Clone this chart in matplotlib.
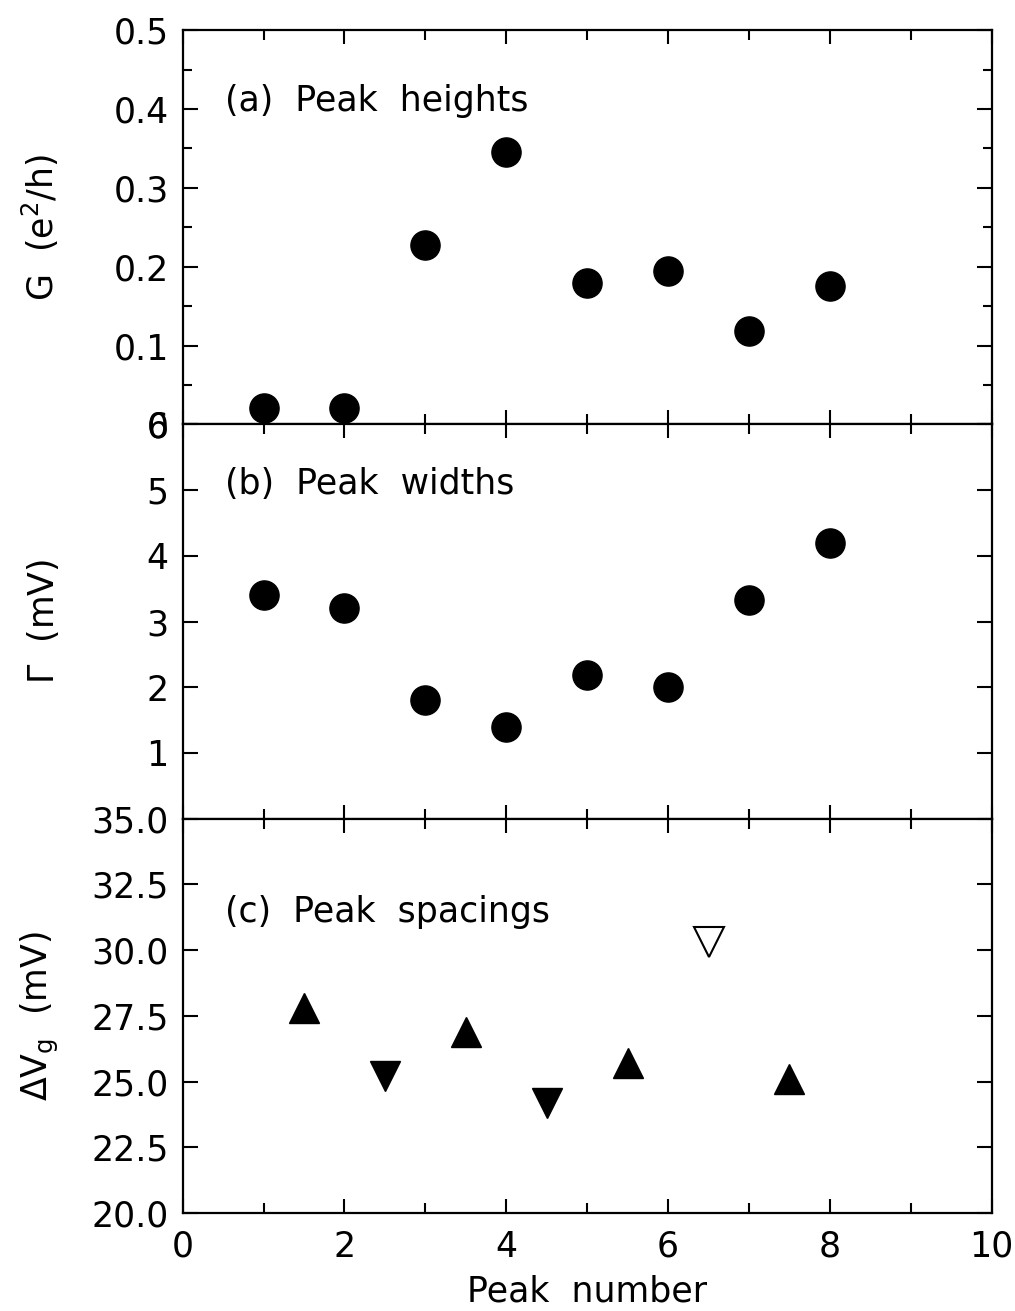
import matplotlib
matplotlib.use("Agg")
import matplotlib.pyplot as plt
from matplotlib.ticker import MultipleLocator, FixedLocator, FormatStrFormatter

plt.rcParams['font.family'] = ['DejaVu Sans']

peak_n = [1, 2, 3, 4, 5, 6, 7, 8]
heights = [0.021, 0.021, 0.228, 0.346, 0.179, 0.194, 0.118, 0.175]
widths = [3.41, 3.21, 1.81, 1.39, 2.18, 2.01, 3.33, 4.20]

sp_up_x = [1.5, 3.5, 5.5, 7.5]
sp_up_y = [27.8, 26.9, 25.7, 25.1]
sp_dn_x = [2.5, 4.5]
sp_dn_y = [25.2, 24.2]
sp_open_x = [6.5]
sp_open_y = [30.3]

fig = plt.figure(figsize=(10.15, 13.11), dpi=100)
gs = fig.add_gridspec(3, 1, left=0.180, right=0.977, top=0.977, bottom=0.0748, hspace=0)
axes = [fig.add_subplot(gs[i]) for i in range(3)]

fs = 25
for ax in axes:
    ax.set_xlim(0, 10)
    ax.xaxis.set_major_locator(MultipleLocator(2))
    ax.xaxis.set_minor_locator(MultipleLocator(1))
    ax.tick_params(which='both', direction='in', top=True, right=True, width=1.5, labelsize=fs)
    ax.tick_params(axis='y', which='major', length=11, pad=10)
    ax.tick_params(axis='y', which='minor', length=6.5)
    ax.tick_params(axis='x', which='major', length=10, pad=12)
    ax.tick_params(axis='x', which='minor', length=7)
    for s in ax.spines.values():
        s.set_linewidth(1.6)
    if ax is not axes[2]:
        ax.tick_params(labelbottom=False)

ax = axes[0]
ax.plot(peak_n, heights, 'o', color='black', markersize=21, linestyle='none')
ax.set_ylim(0, 0.5)
ax.yaxis.set_minor_locator(MultipleLocator(0.05))
ax.set_yticks([0, 0.1, 0.2, 0.3, 0.4, 0.5])
ax.set_yticklabels(['0', '0.1', '0.2', '0.3', '0.4', '0.5'])
ax.set_ylabel(r'G  (e$^2$/h)', fontsize=fs)
ax.text(0.052, 0.82, '(a)  Peak  heights', transform=ax.transAxes, fontsize=fs, va='center', ha='left')

ax = axes[1]
ax.plot(peak_n, widths, 'o', color='black', markersize=21, linestyle='none')
ax.set_ylim(0, 6)
ax.yaxis.set_major_locator(FixedLocator([1, 2, 3, 4, 5, 6]))
ax.yaxis.set_minor_locator(FixedLocator([]))
ax.set_ylabel(r'$\Gamma$  (mV)', fontsize=fs)
ax.text(0.052, 0.85, '(b)  Peak  widths', transform=ax.transAxes, fontsize=fs, va='center', ha='left')

ax = axes[2]
ax.plot(sp_up_x, sp_up_y, '^', color='black', markersize=21, linestyle='none')
ax.plot(sp_dn_x, sp_dn_y, 'v', color='black', markersize=21, linestyle='none')
ax.plot(sp_open_x, sp_open_y, 'v', markerfacecolor='white', markeredgecolor='black',
        markeredgewidth=1.5, markersize=22, linestyle='none')
ax.set_ylim(20, 35)
ax.yaxis.set_major_locator(MultipleLocator(2.5))
ax.yaxis.set_minor_locator(FixedLocator([]))
ax.yaxis.set_major_formatter(FormatStrFormatter('%.1f'))
ax.set_ylabel(r'$\Delta$V$_\mathrm{g}$  (mV)', fontsize=fs)
ax.set_xlabel('Peak  number', fontsize=fs, labelpad=8)
ax.text(0.052, 0.763, '(c)  Peak  spacings', transform=ax.transAxes, fontsize=fs, va='center', ha='left')

for ax in axes:
    ax.yaxis.set_label_coords(-0.15, 0.5)

fig.savefig('out.png', dpi=100)
